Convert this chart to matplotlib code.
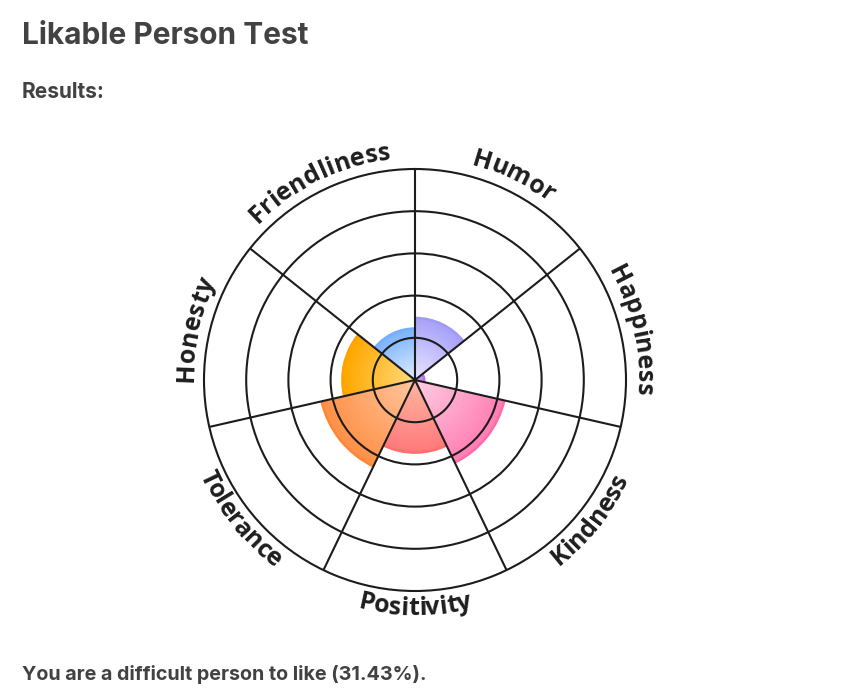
import numpy as np
import matplotlib
matplotlib.use("Agg")
import matplotlib.pyplot as plt
from matplotlib.colors import to_rgb
from matplotlib.font_manager import FontProperties

# data (percent of max)
traits = ["Humor", "Happiness", "Kindness", "Positivity", "Tolerance", "Honesty", "Friendliness"]
scores = [30, 5, 44, 35, 46, 35, 25]
inner_colors = ["#ebe7ff", "#e6c4fa", "#ffd0e4", "#ffb8a2", "#ffc7a0", "#ffdc80", "#e2eeff"]
outer_colors = ["#a8a3f8", "#c27ff0", "#ff80b4", "#ff7b7b", "#ff9148", "#ffa800", "#7db5ff"]
rim_colors = ["#a09af5", "#b870ee", "#ff6aa8", "#ff6f6f", "#ff8638", "#ffa200", "#75b0ff"]
result_text = "You are a difficult person to like (31.43%)."

fig = plt.figure(figsize=(8.42, 6.92), dpi=100)
fig.patch.set_facecolor("white")

text_col = "#424242"
fig.text(22/842, 1 - 36/692, "Likable Person Test", fontsize=21.5, fontweight="bold",
         family="Inter", color=text_col, va="center", ha="left")
fig.text(22/842, 1 - 92/692, "Results:", fontsize=15, fontweight="bold",
         family="Inter", color=text_col, va="center", ha="left")
fig.text(22/842, 1 - 675/692, result_text, fontsize=14.2, fontweight="bold",
         family="Inter", color=text_col, va="center", ha="left")

# polar axes, outer ring radius ~211 px, centre at (415, 380)
R_pix = 211
cx, cy = 415, 380
ax = fig.add_axes([(cx - R_pix)/842, (692 - cy - R_pix)/692, 2*R_pix/842, 2*R_pix/692],
                  projection="polar")
ax.set_theta_zero_location("N")
ax.set_theta_direction(-1)
ax.set_ylim(0, 100)

n = len(traits)
step = 2*np.pi/n
mids = np.arange(n)*step + step/2

# gradient wedges: stack of shrinking bars, outer (dark) to inner (light)
nsteps = 40
for i in range(n):
    v = scores[i]
    c_in = np.array(to_rgb(inner_colors[i]))
    c_out = np.array(to_rgb(outer_colors[i]))
    ax.bar(mids[i], v, width=step, bottom=0, color=rim_colors[i], edgecolor="none",
           zorder=1, linewidth=0)
    for k in range(nsteps):
        f = 1 - k/nsteps
        col = c_in + (c_out - c_in)*f
        ax.bar(mids[i], (v - 1.2)*f, width=step, bottom=0, color=col, edgecolor="none",
               linewidth=0, zorder=1.01 + k*0.001)

line_col = "#1c1c1c"
ax.set_rgrids([20, 40, 60, 80], labels=[])
ax.set_thetagrids(np.degrees(np.arange(n)*step), labels=[])
ax.grid(True, color=line_col, linewidth=1.5)
ax.spines["polar"].set_color(line_col)
ax.spines["polar"].set_linewidth(1.5)
ax.set_axisbelow(False)
ax.tick_params(length=0)
ax.set_facecolor("none")

# curved labels around the outside
fig.canvas.draw()
renderer = fig.canvas.get_renderer()
fs = 18
fp = FontProperties(family="Open Sans", weight="bold", size=fs)


def text_w(s):
    if s == "":
        return 0.0
    return renderer.get_text_width_height_descent(s, fp, ismath=False)[0]


for i, name in enumerate(traits):
    widths = [text_w(name[:j]) for j in range(len(name) + 1)]
    total = widths[-1]
    top = np.cos(mids[i]) > 0
    r_base = 222 if top else 235
    for j, ch in enumerate(name):
        s = (widths[j] + widths[j + 1])/2 - total/2
        off = s/r_base
        if top:
            th = mids[i] + off
            rot = -np.degrees(th)
        else:
            th = mids[i] - off
            rot = 180 - np.degrees(th)
        ax.text(th, r_base/R_pix*100, ch, fontproperties=fp, color="#1e1e1e",
                ha="center", va="baseline", rotation=rot, rotation_mode="anchor",
                clip_on=False)

fig.savefig("out.png", dpi=100, facecolor="white")
